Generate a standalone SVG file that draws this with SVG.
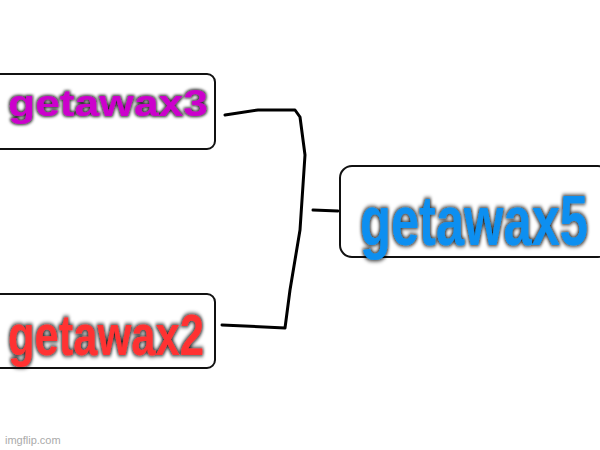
<svg xmlns="http://www.w3.org/2000/svg" width="600" height="450" viewBox="0 0 600 450">
<defs>
<filter id="sh" x="-10%" y="-20%" width="120%" height="140%"><feMorphology in="SourceAlpha" operator="dilate" radius="1" result="d"/><feGaussianBlur in="d" stdDeviation="1.5" result="b"/><feFlood flood-color="#000" flood-opacity="0.85"/><feComposite in2="b" operator="in" result="s"/><feMerge><feMergeNode in="s"/><feMergeNode in="SourceGraphic"/></feMerge></filter>
</defs>
<style>
.box{fill:#fff;stroke:#111;stroke-width:2}
.t{font-family:"Liberation Sans",Arial,sans-serif;font-weight:bold;filter:url(#sh)}
.c{fill:none;stroke:#000;stroke-width:3;stroke-linejoin:round;stroke-linecap:round}
</style>
<rect width="600" height="450" fill="#fff"/>
<g id="connectors">
<path class="c" d="M225,115 L258,110 L295,110 L300,117 L305,155 L303,185 L300,230 L290,290 L285,328 L222,325"/>
<path class="c" d="M313,210 L338,211"/>
</g>
<g id="n3">
<rect class="box" x="-10" y="74" width="225" height="75" rx="8"/>
<text class="t" transform="translate(8,116) scale(1,1.2)" font-size="30" fill="#cc00cc" textLength="200" lengthAdjust="spacingAndGlyphs">getawax3</text>
</g>
<g id="n2">
<rect class="box" x="-10" y="294" width="225" height="74" rx="8"/>
<text class="t" transform="translate(8,355) scale(1,1.35)" font-size="42" fill="#ff3333" textLength="196" lengthAdjust="spacingAndGlyphs">getawax2</text>
</g>
<g id="n5">
<rect class="box" x="340" y="166" width="270" height="91" rx="12" stroke-width="4"/>
<text class="t" transform="translate(360,245) scale(1,1.4)" font-size="50" fill="#0a8ff0" textLength="228" lengthAdjust="spacingAndGlyphs">getawax5</text>
</g>
<text x="5" y="444" font-family="Liberation Sans,Arial,sans-serif" font-size="11" fill="#aaa">imgflip.com</text>
</svg>
